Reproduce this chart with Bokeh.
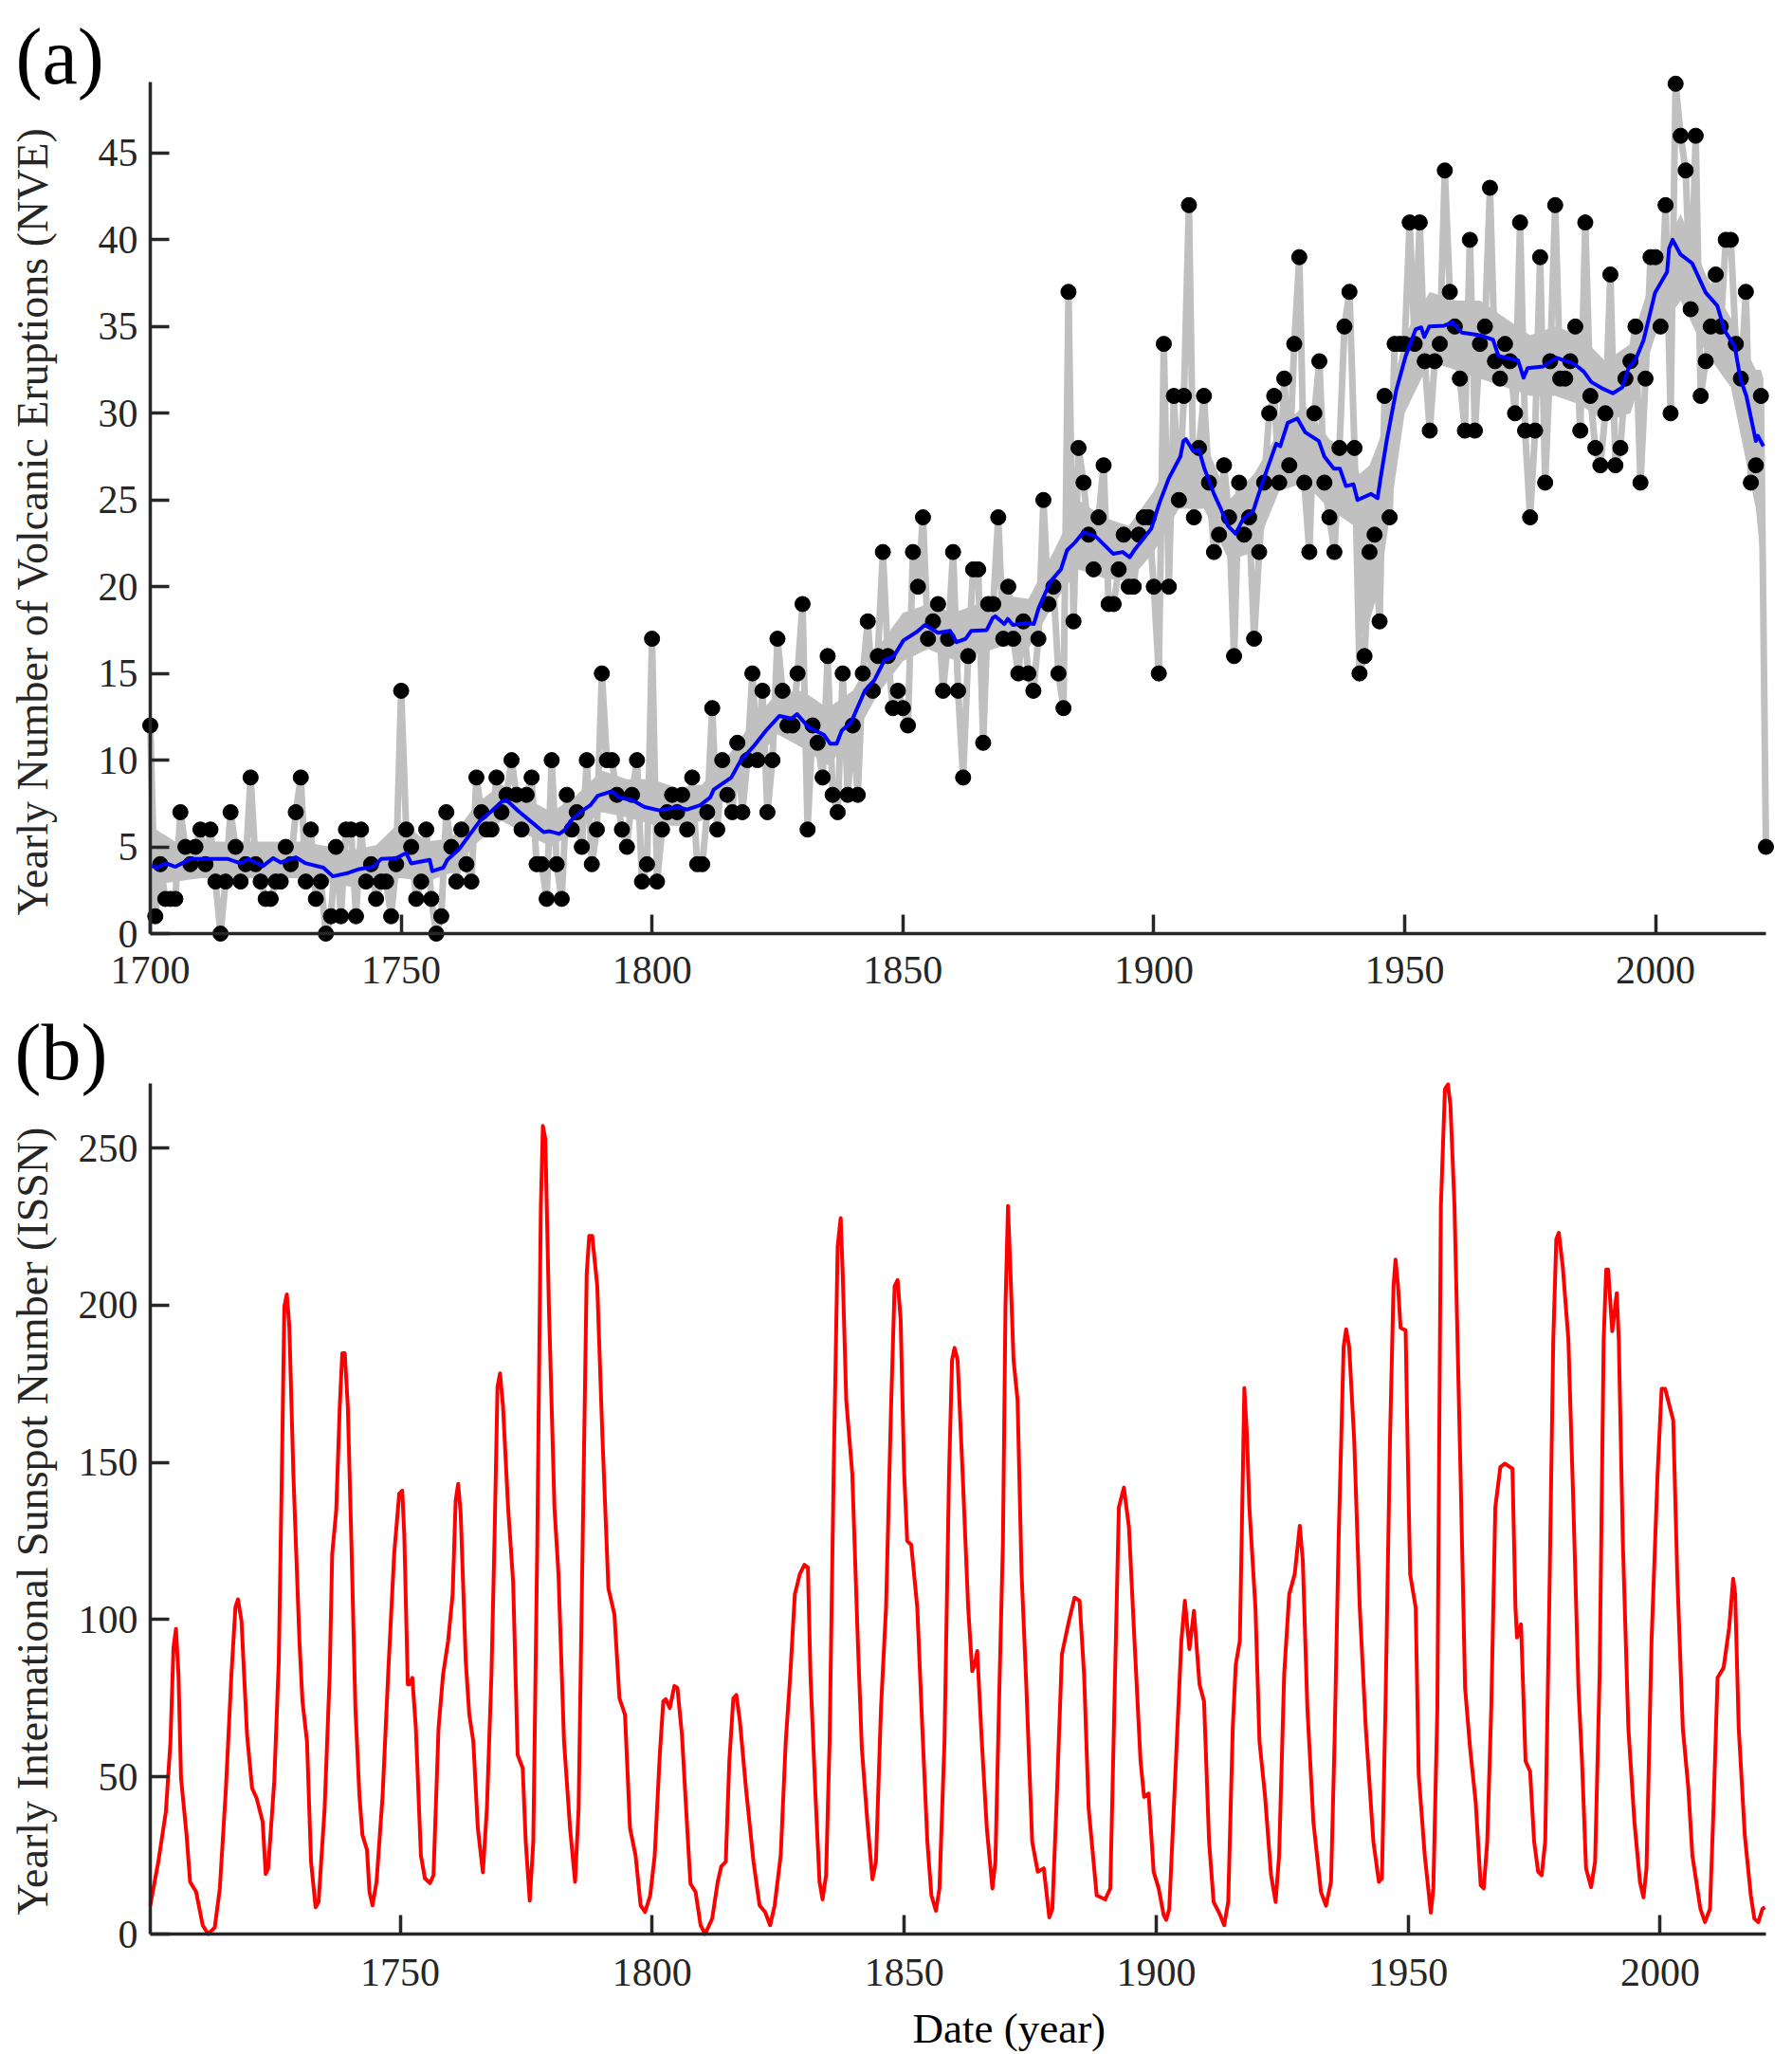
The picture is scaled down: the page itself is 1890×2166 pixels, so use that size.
from bokeh.plotting import figure
from bokeh.layouts import column
from bokeh.models import Range1d, FixedTicker, Title, LinearAxis
from bokeh.embed import file_html
from bokeh.resources import INLINE

FONT = "Liberation Serif"
INK = "#262626"

# Panel (a): yearly counts, one value per year from 1700 to 2022
nve_start = 1700
nve = [12,1,4,2,2,2,7,5,4,5,6,4,6,3,0,3,7,5,3,4,9,4,3,2,2,3,3,5,4,7,
       9,3,6,2,3,0,1,5,1,6,6,1,6,3,4,2,3,3,1,4,14,6,5,2,3,6,2,0,1,7,
       5,3,6,4,3,9,7,6,6,9,7,8,10,8,6,8,9,4,4,2,10,4,2,8,6,7,5,10,4,6,
       15,10,10,8,6,5,8,10,3,4,17,3,6,7,8,7,8,6,9,4,4,7,13,6,10,8,7,11,7,10,
       15,10,14,7,10,17,14,12,12,15,19,6,12,11,9,16,8,7,15,8,12,8,15,18,14,16,22,16,13,14,
       13,12,22,20,24,17,18,19,14,17,22,14,9,16,21,21,11,19,19,24,17,20,17,15,18,15,14,17,25,19,
       20,15,13,37,18,28,26,23,21,24,27,19,19,21,23,20,20,23,24,24,20,15,34,20,31,25,31,42,24,28,
       31,26,22,23,27,24,16,26,23,24,17,22,26,30,31,26,32,27,34,39,26,22,30,33,26,24,22,28,35,37,
       28,15,16,22,23,18,31,24,34,34,34,41,34,41,33,29,33,34,44,37,35,32,29,40,29,34,35,43,33,32,
       34,33,30,41,29,24,29,39,26,33,42,32,32,33,35,29,41,31,28,27,30,38,27,28,32,33,35,26,32,39,
       39,35,42,30,49,46,44,36,46,31,33,35,38,35,40,40,34,32,37,26,27,31,5]
nve_years = [nve_start + i for i in range(len(nve))]

mean_years = [1700.3,1701.3,1703.2,1705,1708,1712.5,1715.5,1718,1719.5,1722.5,1724.5,1726,1729,1731,1734.5,1736.4,1739.5,1741.4,1744.5,1746,
              1749,1751,1752,1755.7,1756.2,1758.4,1759.2,1761.5,1765.7,1768,1770,1771,1773.4,1775.7,1778.4,1779.6,1781.5,1782.7,1783.8,1785.7,
              1787.7,1789.2,1792,1793.4,1796.1,1798.5,1801.5,1805,1807,1809.6,1811.6,1812.3,1815.8,1817.7,1820.4,1822.7,1825.4,1827.8,1828.9,1831.2,
              1834.3,1835.5,1836.8,1837.8,1839.7,1842.4,1844.3,1846.3,1848.2,1850.1,1852.8,1854.4,1857,1859.4,1860.7,1862.5,1863.6,1866.7,1867.9,1868.4,
              1870.2,1870.9,1871.9,1874.4,1876.1,1877.1,1879.4,1881.5,1882.7,1884.3,1886,1888.4,1891.9,1893.8,1895.2,1896.1,1899.5,1901.1,1903,1905.3,
              1905.9,1906.4,1907.9,1909,1910.1,1912,1913.2,1914.8,1916.3,1917.8,1919.8,1921.7,1924.4,1925.2,1926.7,1928.6,1930.2,1932.9,1934,1935.9,
              1937.1,1938.3,1939.8,1940.6,1943.3,1944.6,1945.2,1946.4,1948.3,1950.2,1952.2,1953.3,1953.9,1954.9,1957.9,1959.5,1961.4,1964.9,1967.6,1968.7,
              1972.6,1973.7,1974.5,1977.6,1980.3,1983.8,1985.7,1987.2,1989.6,1991.5,1993.4,1994.6,1996.1,1997.6,1999.9,2002.3,2002.7,2003.4,2005,2007.3,
              2010,2012.3,2013.8,2015.8,2016.9,2018.1,2020,2020.4,2021.5]
mean_vals = [3.9,3.8,4.05,3.85,4.3,4.3,4.3,4.05,4.3,3.9,4.35,4.1,4.4,4.05,3.8,3.3,3.5,3.7,3.85,4.3,
             4.35,4.65,4.05,4.25,3.6,3.8,4.25,4.85,6.5,7.05,7.6,7.7,7.05,6.5,5.85,5.9,5.75,6.0,6.5,7.0,
             7.4,7.95,8.2,7.85,7.7,7.3,7.1,7.3,7.15,7.4,7.85,8.3,9.0,10.0,10.85,11.7,12.55,12.4,12.65,11.9,
             11.45,10.95,10.95,11.7,12.2,14,14.6,15.75,16.0,16.9,17.4,17.8,17.35,17.45,16.8,17.0,17.45,17.5,18.2,18.3,
             17.85,18.15,17.8,17.9,17.85,18.8,20.3,21,22.1,22.55,23.15,22.9,21.9,22.0,21.7,22.1,23.35,24.8,26.25,27.5,
             28.4,28.5,27.8,27.9,26.8,25.35,24.6,23.5,23.05,23.9,24.35,26.05,28.25,28.1,29.45,29.7,28.9,28.4,27.5,26.8,
             26.8,25.8,25.9,25,25.35,25.1,26.25,28.4,31.3,33.3,34.85,34.95,34.4,35,35.05,35.25,34.65,34.5,34.25,33.3,
             33.05,32.05,32.6,32.7,33.2,32.85,32.4,31.8,31.4,31.15,31.5,32.6,33.15,34.2,36.95,38.15,39.5,40,39.15,38.65,
             36.95,36.2,34.75,33.85,32,31,28.4,28.7,28.1]

# Grey ensemble: extent of the smoothed realisations, read at knots
band_years = [1700,1705,1710,1720,1730,1740,1745,1750,1755,1760,1765,1770,1775,1780,1785,1790,1795,1800,1805,1810,
              1815,1820,1825,1830,1835,1840,1845,1850,1855,1860,1865,1870,1875,1880,1885,1890,1895,1900,1905,1910,
              1915,1920,1925,1930,1935,1940,1941,1943,1945,1950,1955,1960,1965,1970,1975,1980,1985,1990,1995,2000,2005,2010,
              2015,2020,2021,2021.5]
band_lo = [2.8,3,3.2,3.2,3.2,2.7,3,3.2,3,3.5,5.2,6.5,5.7,5,6,7,6.7,6.3,6.2,6.5,
           8,9.7,11.5,10.7,9.7,11.2,13.8,15.7,16.4,15.8,16.1,16.6,16.4,19,21,20.5,20.3,22,24.5,24.5,
           21.5,22,25.5,26,24.5,23.5,17,18,20,30,33,32.5,32,31.5,31,31,30.5,29.5,30,34.5,36.5,33.5,
           31.5,24.5,21.5,17]
band_hi = [6.2,5.3,5.3,5.3,5.3,4.8,5.1,6.5,5.3,5.5,7.5,8.6,7.8,7,8,9.4,8.9,8.9,8.4,8.6,
           10.2,12.2,13.9,14,13,14,16.5,18.5,19,18.5,19,19.5,19.3,22,25,24,23.5,25.5,28.5,28.5,
           25,26.5,29,30.5,28.5,27.5,26.5,27,28.5,34.5,37,36.5,36.5,35.5,34.5,35,34.5,33,34,38.5,41.5,38,
           35.5,32.5,32.5,32]

# Panel (b): sunspot number
issn_years = [1700.4,1702,1703.5,1704.4,1705,1705.5,1706,1706.5,1707.6,1708.3,1709.5,1710.8,1711.9,1713.2,1714.2,1715.4,1716.5,1717.3,1717.8,1718.5,
 1719.6,1720.6,1721.5,1722.7,1723.3,1723.8,1725,1725.9,1726.5,1727,1727.5,1728,1728.8,1730,1730.6,1731.5,1732.3,1733.2,1733.8,1735,
 1736,1736.5,1737.3,1738,1738.5,1739,1739.6,1740.3,1741.1,1741.9,1742.5,1743.4,1743.9,1744.5,1745.3,1746.5,1747.6,1748.8,1749.8,1750.4,
 1750.8,1751.5,1751.8,1752.4,1753.1,1754.1,1754.9,1755.9,1756.6,1757.6,1758.5,1759.5,1760.4,1761,1761.5,1762,1763,1763.7,1764.5,1765.4,
 1766.4,1767.2,1768.1,1768.7,1769.3,1769.8,1770.4,1771.4,1772.4,1773.3,1774.3,1774.9,1775.7,1776.4,1777.2,1777.9,1778.3,1778.8,1779.5,1780.6,
 1781.4,1782.5,1783.7,1784.7,1785.4,1786.2,1787,1787.5,1788.1,1789.1,1790.1,1791.3,1792.5,1793.5,1794.6,1795.6,1796.7,1797.7,1798.6,1799.6,
 1800.5,1801.5,1802.2,1802.7,1803.5,1804.4,1805,1805.9,1807.1,1807.6,1808.6,1809.6,1810.5,1811.9,1813,1813.7,1814.6,1815.3,1816.1,1816.7,
 1817.4,1818.6,1820.1,1821.3,1822.4,1823.4,1824.3,1825.5,1826.5,1827.4,1828.3,1829.3,1830.2,1830.9,1831.4,1832.4,1833.2,1833.8,1834.5,1835.2,
 1836,1836.8,1837.4,1837.8,1838.5,1839.7,1840.8,1841.6,1842.7,1843.7,1844.4,1845.4,1846.4,1847.4,1848.1,1848.7,1849.3,1850,1850.6,1851.4,
 1852.6,1853.6,1854.6,1855.4,1856.3,1857,1858,1858.9,1859.5,1860,1860.6,1861.6,1862.7,1863.5,1864,1864.5,1865.4,1866.4,1867.5,1868.1,
 1868.8,1869.6,1870.1,1870.6,1871.1,1871.7,1872.5,1873.3,1874.2,1875.4,1876.5,1877.7,1878.8,1879.4,1880.2,1881.3,1882.7,1883.8,1884.8,1885.7,
 1886.6,1888.2,1889.9,1890.9,1891.7,1892.6,1893.6,1894.6,1895.7,1896.9,1897.6,1898.5,1899.5,1900.5,1901.5,1902,1902.6,1903.8,1905,1905.7,
 1906.6,1907.5,1908.6,1909.5,1910.5,1911.4,1912.6,1913.5,1914.3,1915.2,1915.8,1916.6,1917.2,1917.5,1918,1918.5,1919.7,1920.5,1921.6,1922.8,
 1923.7,1924.4,1925.4,1926.4,1927.5,1928.5,1929.1,1930,1931.2,1932.7,1933.7,1934.7,1935.4,1936.2,1937.2,1937.7,1938.3,1939.3,1940.4,1941.6,
 1943.1,1944.2,1944.8,1945.5,1946.4,1947.1,1947.5,1948,1948.5,1949.5,1950,1950.4,1951.5,1952.1,1953.3,1954.5,1955,1955.8,1956.5,1957.3,
 1957.9,1958.4,1959.2,1960.4,1961.3,1962.3,1963.4,1964.4,1965,1965.7,1966.5,1967.3,1968.3,1969.2,1970.7,1971.3,1971.6,1972.4,1973.3,1974.2,
 1975,1975.8,1976.5,1977.2,1978,1978.8,1979.4,1979.9,1980.7,1981.8,1982.8,1983.8,1984.5,1985.3,1986.3,1987.1,1988,1988.8,1989.3,1989.7,
 1990.5,1991.4,1991.8,1992.6,1993.7,1994.9,1996,1996.7,1997.3,1998.3,1999.5,2000.3,2001,2002.6,2003.4,2004.5,2005.6,2006.4,2008,2008.9,
 2009.9,2010.6,2011.4,2012.6,2013.7,2014.5,2014.9,2015.6,2016.8,2018,2018.7,2019.5,2020.3,2020.8]
issn_vals = [9.1,23,39,61,91,97,82.5,49.6,31.5,16.6,13.4,2.8,0,2.1,14.5,46,82.5,104,106.4,99.6,
 63.4,46.4,43.2,35.7,19.1,20.9,48.5,86.8,146,199.6,203.4,193,146,93,74,61.3,23,8.5,10.2,40,
 82.5,120.9,134.7,167.7,184.7,184.7,167.7,125,72,44,31.5,26.8,13.4,9.1,16.6,44,82.5,120.9,140,141,
 127,79.4,79.4,81.5,65.5,25,17.7,16.2,18.7,65.5,82.5,93.2,108,137.9,143.2,133.6,86.8,69.8,61.3,33.6,
 19.6,40,82.5,125,174,178.3,167.7,135.7,112,57,52.8,29.4,10.6,29.4,125,231.5,257,252.8,199.6,135.7,
 114.5,61.3,33.6,16.6,40,125,210,222,222,206,159,110,101.7,75,69.8,33.6,25,9.1,7,12.3,
 25,57,74,74.7,71.9,78.9,78.3,63.4,29.4,16,13.4,2.8,0,4.9,16.6,21.5,23,55,75,76,
 67.7,46.4,23,9.1,7,2.8,9.1,25,61.3,82.5,108,114.5,117.4,116.6,82.5,44,16.6,11,18.7,61.3,
 146.4,218.7,227.7,210,169.8,146.4,93.2,59,35.7,17.4,23,72,103.8,167.7,206,208,195.3,146.4,125,123.8,
 103.8,65.5,29.4,12.3,7.4,14.5,61.3,146.4,182.6,186.4,182.6,146.4,103.8,83.6,85.7,90,61.3,33.6,14.5,23,
 72,125,199.6,231.5,210,182.6,169.8,114.5,80.4,29.4,19.8,20.9,5.3,8,40,89,99.6,107,106,82.5,
 40,12.3,11,14.5,72,135.7,142,129.4,93.2,55,43.6,44.7,19.8,14.5,6,4.5,8,50.6,93.2,106,
 90.6,102.8,79.4,74,29.4,10.2,6.4,2.8,10.2,65.5,85.7,93.2,146.4,173.6,159,135.7,103.8,61.3,44,18.7,
 10.2,25,82.5,108,114.5,129.8,118.7,72,35.7,13.4,9,16.6,61.3,125,186.8,192.3,186.8,157,103.8,65.5,
 29.4,16.6,17.7,72,157,206,214.5,206,192.8,192,146.4,114.5,103.8,50.6,25,6.8,14.5,72,231.5,268.7,
 270.2,263.4,231.5,146.4,78.3,59,42,15.5,14.5,29.4,72,135.7,148.5,149.6,148,103.8,94.3,98.5,55,51.7,
 29.4,19.8,18.7,29.4,103.8,189,221,223,212,189,135.7,78.3,55,20.9,14.9,23,82.5,189,211.3,211.3,
 191.7,203.8,189,125,65.5,35.7,16.6,11.7,20.9,93.2,146.4,173.4,173.4,163.4,114.5,65.5,46.4,25,8,3.8,
 8,40,81.5,84.7,97.4,113,108,65.5,31.5,12.3,4.9,3.8,8,8.5]

nve_yticks = [0,5,10,15,20,25,30,35,40,45]
nve_xticks = [1700,1750,1800,1850,1900,1950,2000]
issn_yticks = [0,50,100,150,200,250]
issn_xticks = [1750,1800,1850,1900,1950,2000]

PAD = 10
TOTAL_W = 1882

def label_axis(ax, ticks):
    ax.ticker = FixedTicker(ticks=ticks)
    ax.axis_line_color = None
    ax.major_tick_line_color = None
    ax.minor_tick_line_color = None
    ax.major_tick_in = 0
    ax.major_tick_out = 0
    ax.major_label_text_font = FONT
    ax.major_label_text_font_size = "42px"
    ax.major_label_text_color = INK

def spine_axis(p, side, ticks, bounds, loc):
    ax = LinearAxis(ticker=FixedTicker(ticks=ticks), bounds=bounds, fixed_location=loc,
                    axis_line_color=INK, axis_line_width=3.5,
                    major_tick_line_color=INK, major_tick_line_width=3.5,
                    major_tick_in=20, major_tick_out=0, minor_tick_line_color=None,
                    major_label_overrides={t: "" for t in ticks},
                    major_label_text_font_size="1px", major_label_standoff=0)
    p.add_layout(ax, side)

def spacer_axis(p, side, tick, gap):
    # A white tick on white with no label: this axis only spaces out the side panel.
    p.add_layout(LinearAxis(ticker=FixedTicker(ticks=[tick]), axis_line_color=None,
                            major_tick_line_color="white", major_tick_line_width=1,
                            minor_tick_line_color=None,
                            major_tick_in=0, major_tick_out=gap,
                            major_label_overrides={tick: ""},
                            major_label_text_font_size="1px", major_label_standoff=0), side)

def style(p, xticks, yticks, xb, yb, xloc, yloc, xgap, ygap):
    label_axis(p.xaxis[0], xticks)
    label_axis(p.yaxis[0], yticks)
    p.grid.visible = False
    p.outline_line_color = None
    spine_axis(p, "below", xticks, xb, yloc)
    spine_axis(p, "left", yticks, yb, xloc)
    spacer_axis(p, "below", xticks[0], xgap)
    spacer_axis(p, "left", yticks[0], ygap)

def panel_title(text, standoff, offset):
    return Title(text=text, align="left", offset=offset, standoff=standoff,
                 text_font=FONT, text_font_size="84px", text_font_style="normal",
                 text_color="black")

def side_title(text, size, color, offset, valign):
    return Title(text=text, align="left", offset=offset, standoff=0, vertical_align=valign,
                 text_font=FONT, text_font_size=size, text_font_style="normal",
                 text_color=color)

# Panel (a)
ax_px = 5.295
ay_px = 18.29
a = figure(width=TOTAL_W, height=1062, output_backend="svg", toolbar_location=None,
           x_range=Range1d(1700 - PAD / ax_px, 2022 + PAD / ax_px),
           y_range=Range1d(-PAD / ay_px, (984 - 76) / ay_px),
           min_border_left=148, min_border_right=9, min_border_top=76, min_border_bottom=68)
style(a, nve_xticks, nve_yticks, (1700, 2022), (0, 49.1), 1700, 0, 0, 39)
a.xaxis[0].major_label_standoff = 14
a.yaxis[0].major_label_standoff = 3
a.varea(band_years, band_lo, band_hi, fill_color="#c0c0c0")
a.line(nve_years, nve, line_color="#c0c0c0", line_width=7, line_join="round")
a.scatter(nve_years, nve, size=16, color="black")
a.line(mean_years, mean_vals, line_color="#0000ff", line_width=4, line_join="round")
a.add_layout(panel_title("(a)", -58, -132), "above")
a.add_layout(side_title("Yearly Number of Volcanic Eruptions (NVE)", "46px", INK, 29, "top"), "left")

# Panel (b)
bx_px = 5.32
by_px = 3.316
b = figure(width=TOTAL_W, height=1104, output_backend="svg", toolbar_location=None,
           x_range=Range1d(1700.4 - PAD / bx_px, 2021 + PAD / bx_px),
           y_range=Range1d(-PAD / by_px, (2039 - 1132) / by_px),
           min_border_left=147, min_border_right=10, min_border_top=70, min_border_bottom=117)
style(b, issn_xticks, issn_yticks, (1700.4, 2021), (0, 270.5), 1700.4, 0, 15, 18)
b.xaxis[0].major_label_standoff = 16
b.yaxis[0].major_label_standoff = 3
b.line(issn_years, issn_vals, line_color="#ff0000", line_width=4, line_join="round")
b.add_layout(panel_title("(b)", -47, -133), "above")
b.add_layout(side_title("Yearly International Sunspot Number (ISSN)", "46px", INK, 30, "top"), "left")
b.add_layout(side_title("Date (year)", "45px", "black", 814, "bottom"), "below")

page = column(a, b, spacing=0)
open("out.html", "w").write(file_html(page, INLINE))
